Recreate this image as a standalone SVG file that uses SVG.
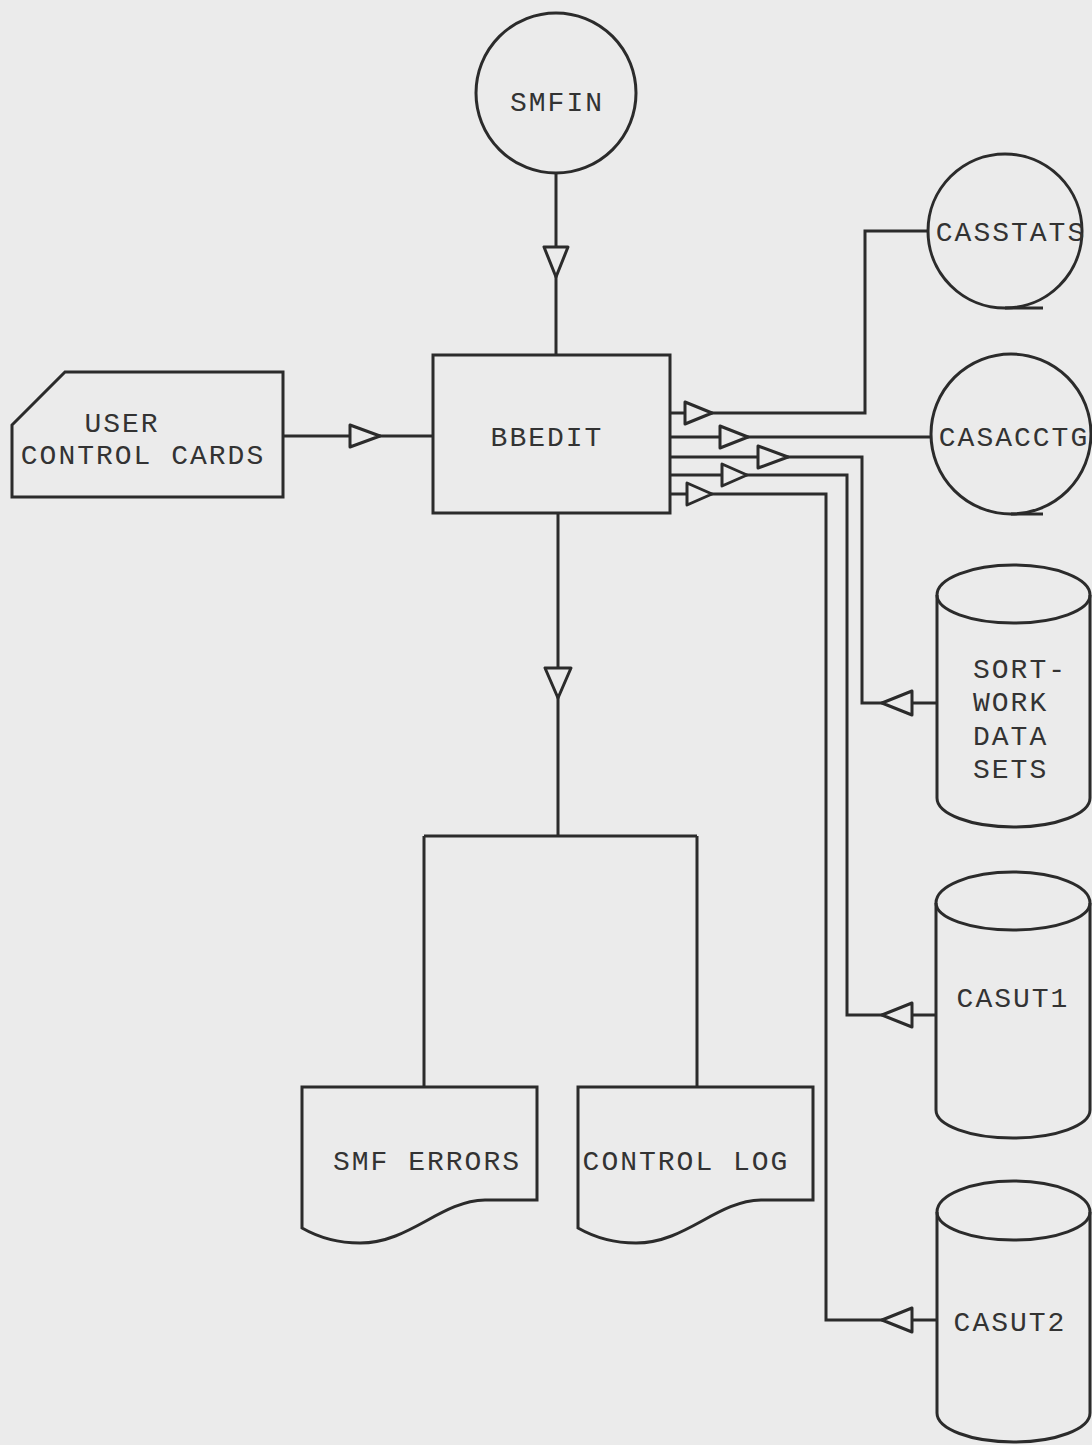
<svg xmlns="http://www.w3.org/2000/svg" width="1092" height="1445" viewBox="0 0 1092 1445">
<style>
.s{fill:none;stroke:#2b2b2b;stroke-width:3;stroke-linejoin:miter}
.n{fill:#ebebeb;stroke:#2b2b2b;stroke-width:3}
.t{fill:#ebebeb;stroke:#2b2b2b;stroke-width:3;stroke-linejoin:round}
text{font-family:"Liberation Mono","Courier New",monospace;font-size:28px;fill:#333;letter-spacing:2px}
.c{text-anchor:middle}
</style>
<rect x="0" y="0" width="1092" height="1445" fill="#ebebeb"/>
<g id="connectors">
<path class="s" d="M556,173 V355"/>
<path class="s" d="M283,436 H433"/>
<path class="s" d="M558,513 V836 M424,836 H697 M424,836 V1087 M697,836 V1087"/>
<path class="s" d="M670,413 H865 V231 H928"/>
<path class="s" d="M670,437 H932"/>
<path class="s" d="M670,457 H862 V703 H937"/>
<path class="s" d="M670,475 H847 V1015 H935"/>
<path class="s" d="M670,494 H826 V1320 H937"/>
<polygon class="t" points="544,247 568,247 556,277"/>
<polygon class="t" points="350,425 350,447 380,436"/>
<polygon class="t" points="545,668 571,668 558,698"/>
<polygon class="t" points="685,402 685,424 712,413"/>
<polygon class="t" points="720,426 720,448 748,437"/>
<polygon class="t" points="758,446 758,468 788,457"/>
<polygon class="t" points="722,464 722,486 747,475"/>
<polygon class="t" points="687,483 687,505 712,494"/>
<polygon class="t" points="912,691 912,715 882,703"/>
<polygon class="t" points="912,1003 912,1027 882,1015"/>
<polygon class="t" points="912,1308 912,1332 882,1320"/>
</g>
<g id="smfin">
<circle class="n" cx="556" cy="93" r="80"/>
<text class="c" x="557" y="111">SMFIN</text>
</g>
<g id="user-control-cards">
<path class="n" d="M12,425 L65,372 H283 V497 H12 Z"/>
<text class="c" x="122" y="432">USER</text>
<text class="c" x="143" y="464">CONTROL CARDS</text>
</g>
<g id="bbedit">
<rect class="n" x="433" y="355" width="237" height="158"/>
<text class="c" x="547" y="446">BBEDIT</text>
</g>
<g id="casstats">
<circle class="n" cx="1005" cy="231" r="77"/>
<path class="s" d="M1005,308 H1043"/>
<text class="c" x="1011" y="241">CASSTATS</text>
</g>
<g id="casacctg">
<circle class="n" cx="1011" cy="434" r="80"/>
<path class="s" d="M1011,514 H1043"/>
<text class="c" x="1014" y="446">CASACCTG</text>
</g>
<g id="sortwork">
<path class="n" d="M937,595 A76.5,30 0 0 1 1090,595 V798 A76.5,29 0 0 1 937,798 Z"/>
<path class="s" d="M937,595 A76.5,28 0 0 0 1090,595"/>
<text x="973" y="678">SORT-</text>
<text x="973" y="711">WORK</text>
<text x="973" y="745">DATA</text>
<text x="973" y="778">SETS</text>
</g>
<g id="casut1">
<path class="n" d="M936,903 A77,31 0 0 1 1090,903 V1110 A77,28 0 0 1 936,1110 Z"/>
<path class="s" d="M936,903 A77,27 0 0 0 1090,903"/>
<text class="c" x="1013" y="1007">CASUT1</text>
</g>
<g id="casut2">
<path class="n" d="M937,1212 A76.5,31 0 0 1 1090,1212 V1413 A76.5,29 0 0 1 937,1413 Z"/>
<path class="s" d="M937,1212 A76.5,28 0 0 0 1090,1212"/>
<text class="c" x="1010" y="1331">CASUT2</text>
</g>
<g id="smf-errors">
<path class="n" d="M302,1087 H537 V1200 H485 C440,1201 410,1243 360,1243 C335,1243 316,1236 302,1228 Z"/>
<text class="c" x="427" y="1170">SMF ERRORS</text>
</g>
<g id="control-log">
<path class="n" d="M578,1087 H813 V1200 H761 C716,1201 686,1243 636,1243 C611,1243 592,1236 578,1228 Z"/>
<text class="c" x="686" y="1170">CONTROL LOG</text>
</g>
</svg>
